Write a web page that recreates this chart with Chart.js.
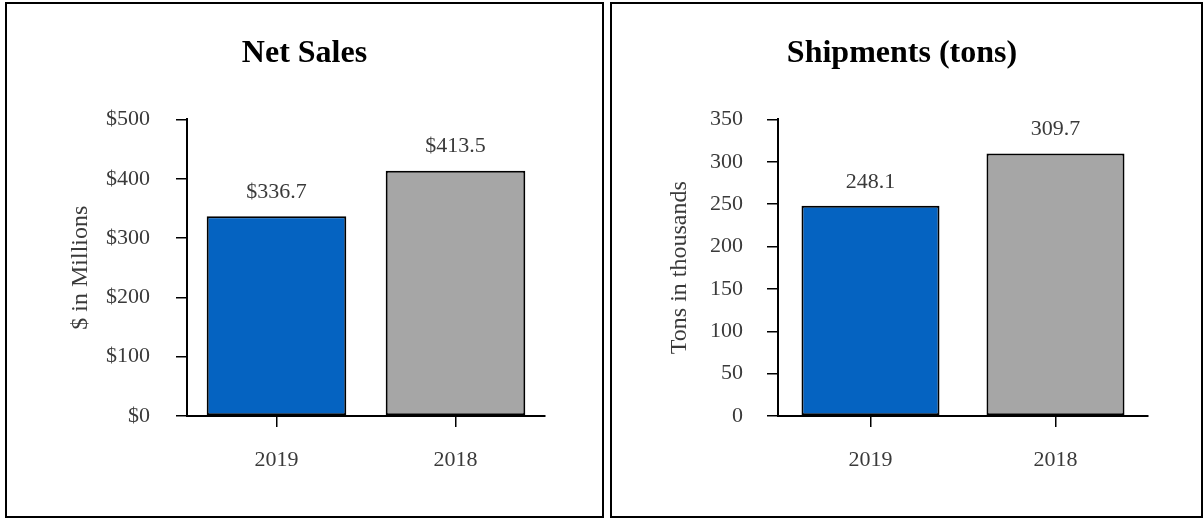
<!DOCTYPE html>
<html>
<head>
<meta charset="utf-8">
<title>Net Sales and Shipments</title>
<script src="https://cdn.jsdelivr.net/npm/chart.js@4.4.1/dist/chart.umd.min.js"></script>
<style>
  html, body { margin: 0; padding: 0; background: #fff; }
  body { width: 1203px; height: 518px; position: relative; overflow: hidden; }
  .panel {
    position: absolute;
    top: 2px;
    height: 516px;
    box-sizing: border-box;
    border: 2px solid #000;
    background: #fff;
  }
  #salesPanel { left: 5px; width: 599px; }
  #shipPanel { left: 610px; width: 593px; }
  .panel canvas { display: block; }
</style>
</head>
<body>
<div class="panel" id="salesPanel"><canvas id="salesChart" width="595" height="512"></canvas></div>
<div class="panel" id="shipPanel"><canvas id="shipChart" width="589" height="512"></canvas></div>

<script>
// Fiscal years shown on both charts
var years = ['2019', '2018'];
// Net sales, $ millions
var netSales = [336.7, 413.5];
// Shipments, thousands of tons
var shipments = [248.1, 309.7];

var barColors = ['#0563C1', '#A6A6A6'];
var serif = '"Liberation Serif", "Times New Roman", serif';
var textColor = '#3a3a3a';

Chart.defaults.font.family = serif;
Chart.defaults.color = textColor;

// writes each bar's value just above its top
var valueLabels = {
  id: 'valueLabels',
  afterDatasetsDraw: function (chart, args, opts) {
    var ctx = chart.ctx;
    var meta = chart.getDatasetMeta(0);
    var values = chart.data.datasets[0].data;
    ctx.save();
    ctx.font = '22px ' + serif;
    ctx.fillStyle = textColor;
    ctx.textAlign = 'center';
    ctx.textBaseline = 'middle';
    meta.data.forEach(function (bar, i) {
      ctx.fillText(opts.prefix + values[i].toFixed(1), bar.x, bar.y - 24);
    });
    ctx.restore();
  }
};

function makeChart(id, opts) {
  return new Chart(document.getElementById(id), {
    type: 'bar',
    data: {
      labels: years,
      datasets: [{
        data: opts.values,
        backgroundColor: barColors,
        borderColor: '#000',
        borderWidth: 2,
        borderSkipped: false,
        categoryPercentage: 1,
        barPercentage: opts.barPct
      }]
    },
    options: {
      responsive: false,
      animation: false,
      layout: { padding: { left: opts.padLeft, right: opts.padRight, top: 0, bottom: 0 } },
      plugins: {
        legend: { display: false },
        tooltip: { enabled: false },
        title: {
          display: true,
          text: opts.title,
          color: '#000',
          font: { size: 32, weight: 'bold', family: serif },
          padding: { top: 31, bottom: 46 }
        },
        valueLabels: { prefix: opts.prefix }
      },
      scales: {
        x: {
          offset: true,
          grid: { offset: false, drawOnChartArea: false, drawTicks: true, tickLength: 11, tickColor: '#000', lineWidth: 1.5 },
          border: { display: true, color: '#000', width: 2 },
          ticks: { font: { size: 22 }, color: textColor, padding: 20 },
          afterFit: function (s) { s.height = 100; }
        },
        y: {
          min: 0,
          max: opts.max,
          grid: { drawOnChartArea: false, drawTicks: true, tickLength: 11, tickColor: '#000', lineWidth: 1.5 },
          border: { display: true, color: '#000', width: 2 },
          ticks: {
            stepSize: opts.step,
            font: { size: 22 },
            color: textColor,
            padding: opts.tickPad,
            callback: function (v) { return opts.prefix + v; }
          },
          title: {
            display: true,
            text: opts.axisTitle,
            color: textColor,
            font: { size: 24, family: serif },
            padding: { top: opts.titlePad, bottom: 0 }
          },
          afterFit: function (s) { s.width = opts.axisWidth; }
        }
      }
    },
    plugins: [valueLabels]
  });
}

makeChart('salesChart', {
  values: netSales,
  title: 'Net Sales',
  axisTitle: '$ in Millions',
  prefix: '$',
  max: 500,
  step: 100,
  barPct: 0.78,
  padLeft: 57,
  padRight: 57,
  axisWidth: 123,
  titlePad: 2,
  tickPad: 26
});

makeChart('shipChart', {
  values: shipments,
  title: 'Shipments (tons)',
  axisTitle: 'Tons in thousands',
  prefix: '',
  max: 350,
  step: 50,
  barPct: 0.746,
  padLeft: 44,
  padRight: 53,
  axisWidth: 122,
  titlePad: 9,
  tickPad: 24
});
</script>
</body>
</html>
